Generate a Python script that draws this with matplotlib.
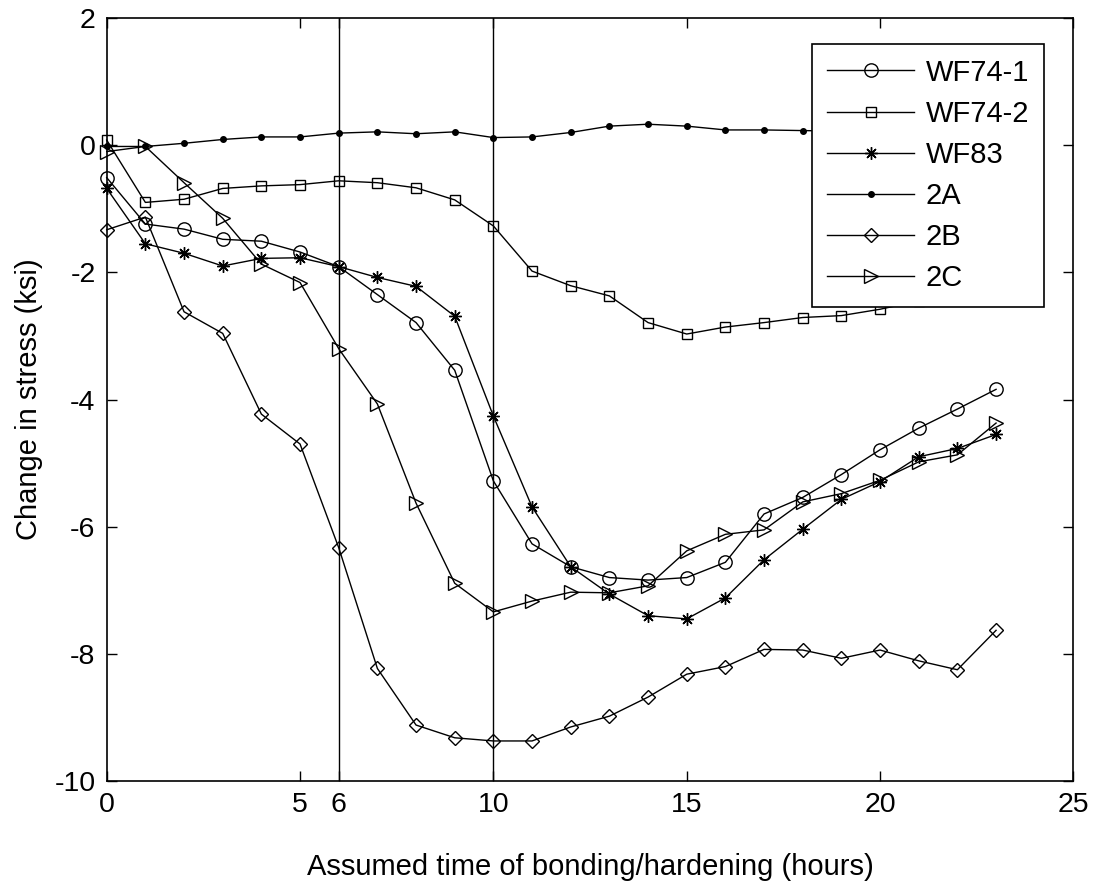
import matplotlib
matplotlib.use("Agg")
import matplotlib.pyplot as plt

plt.rcParams['font.family'] = ['Liberation Sans', 'DejaVu Sans']
plt.rcParams['axes.unicode_minus'] = False

hours = list(range(24))

wf74_1 = [-0.51, -1.24, -1.32, -1.48, -1.51, -1.68, -1.91, -2.35, -2.79, -3.54,
          -5.28, -6.27, -6.63, -6.80, -6.84, -6.80, -6.56, -5.80, -5.54, -5.18,
          -4.79, -4.45, -4.15, -3.84]
wf74_2 = [0.08, -0.90, -0.85, -0.68, -0.64, -0.62, -0.56, -0.59, -0.67, -0.86,
          -1.27, -1.98, -2.21, -2.37, -2.79, -2.97, -2.86, -2.79, -2.71, -2.68,
          -2.58, -2.45, -2.30, -2.10]
wf83 = [-0.68, -1.55, -1.70, -1.90, -1.78, -1.77, -1.91, -2.08, -2.22, -2.69,
        -4.26, -5.69, -6.63, -7.06, -7.40, -7.45, -7.12, -6.52, -6.04, -5.57,
        -5.29, -4.90, -4.77, -4.55]
s2a = [-0.02, -0.02, 0.03, 0.09, 0.13, 0.13, 0.19, 0.21, 0.18, 0.21,
       0.12, 0.13, 0.20, 0.30, 0.33, 0.30, 0.24, 0.24, 0.23, 0.22,
       0.21, 0.20, 0.20, 0.20]
s2b = [-1.33, -1.13, -2.62, -2.96, -4.23, -4.70, -6.33, -8.23, -9.12, -9.32,
       -9.37, -9.37, -9.15, -8.98, -8.68, -8.32, -8.20, -7.93, -7.94, -8.07,
       -7.94, -8.11, -8.25, -7.63]
s2c = [-0.10, -0.02, -0.59, -1.15, -1.87, -2.16, -3.20, -4.07, -5.63, -6.89,
       -7.34, -7.17, -7.03, -7.04, -6.93, -6.38, -6.12, -6.05, -5.61, -5.48,
       -5.27, -4.98, -4.87, -4.37]

labels = ['WF74-1', 'WF74-2', 'WF83', '2A', '2B', '2C']
xticks = [0, 5, 6, 10, 15, 20, 25]
yticks = [-10, -8, -6, -4, -2, 0, 2]
marker_lines = [6, 10]

fig = plt.figure(figsize=(10.99, 8.84), dpi=100)
ax = fig.add_axes([0.0971, 0.1165, 0.8796, 0.8631])

series = [wf74_1, wf74_2, wf83, s2a, s2b, s2c]
styles = [
    dict(marker='o', ms=9.6, mfc='none'),
    dict(marker='s', ms=7.7, mfc='none'),
    dict(marker=(8, 2, 0), ms=9.0),
    dict(marker='o', ms=4.0, mfc='black'),
    dict(marker='D', ms=6.8, mfc='none'),
    dict(marker='>', ms=10.0, mfc='none'),
]

for x in marker_lines:
    ax.axvline(x, color='black', lw=1.0, zorder=1)

for ys, lab, st in zip(series, labels, styles):
    ax.plot(hours, ys, color='black', lw=1.0, mec='black', mew=1.0,
            label=lab, clip_on=False, zorder=3, **st)

ax.set_xlim(0, 25)
ax.set_ylim(-10, 2)
ax.set_xticks(xticks)
ax.set_yticks(yticks)
ax.tick_params(direction='in', length=7, width=1.0, top=True, right=True,
               labelsize=20.5, pad=8)
for sp in ax.spines.values():
    sp.set_linewidth(1.2)

ax.set_xlabel('Assumed time of bonding/hardening (hours)', fontsize=21, labelpad=25)
ax.set_ylabel('Change in stress (ksi)', fontsize=21, labelpad=8)

leg = ax.legend(loc='upper right', bbox_to_anchor=(0.9696, 0.9659), borderaxespad=0,
                fontsize=21, frameon=True, fancybox=False, framealpha=1,
                handlelength=3.0, handletextpad=0.4, labelspacing=0.45,
                borderpad=0.5)
leg.get_frame().set_edgecolor('black')
leg.get_frame().set_linewidth(1.2)
leg.set_zorder(5)

fig.savefig('out.png', dpi=100, facecolor='white')
